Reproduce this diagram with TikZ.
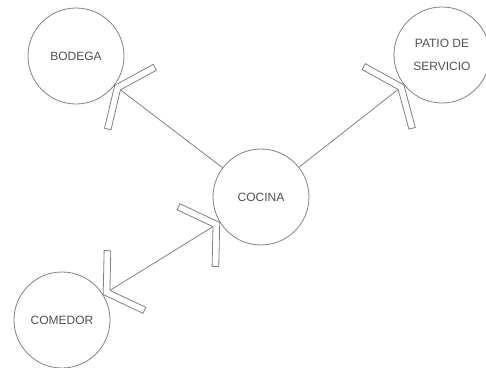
\documentclass[tikz,border=0pt]{standalone}
\usepackage{fontspec}
\setmainfont{Liberation Sans}
\usetikzlibrary{calc, decorations.markings, backgrounds}

\definecolor{linegray}{HTML}{808080}
\definecolor{textgray}{HTML}{505050}

% open V tip drawn as an outlined strip, #2 = half opening angle
\newcommand{\vtip}[2][]{%
  \filldraw[tipstrip, #1] (0,0) -- (180-#2:33pt) -- ++(270-#2:5pt)
    -- ({-5pt/sin(#2)},0pt) -- ($(180+#2:33pt)+(90+#2:5pt)$)
    -- (180+#2:33pt) -- cycle;}

\tikzset{
  room/.style={circle, draw=linegray, line width=0.6pt, text=textgray,
               minimum size=72pt, inner sep=0pt, align=center,
               font=\fontsize{9}{17}\selectfont},
  link/.style={draw=linegray, line width=0.6pt},
  tipstrip/.style={draw=linegray, fill=white, line width=0.6pt},
  tipend/.style={postaction={decorate, decoration={markings,
                 mark=at position 1 with {\vtip{#1}}}}},
  bothends/.style={postaction={decorate, decoration={markings,
                 mark=at position 0 with {\vtip[xscale=-1]{#1}},
                 mark=at position 1 with {\vtip{#1}}}}}
}

\begin{document}
\begin{tikzpicture}[x=0.75pt, y=-0.75pt]
	\useasboundingbox (0,0) rectangle (486,368);

	\node[room] (cocina)  at (261,197) {COCINA};
	\node[room] (bodega)  at (76,56)   {BODEGA};
	\node[room] (patio)   at (442,55)  {PATIO DE\\SERVICIO};
	\node[room] (comedor) at (62,320)  {COMEDOR};

	% connectors behind the circles, so the circle lines cross the tips
	\begin{scope}[on background layer]
	\draw[link, tipend=66]   (cocina)  -- (bodega);
	\draw[link, tipend=67]   (cocina)  -- (patio);
	\draw[link, bothends=57] (comedor) -- (cocina);
	\end{scope}
\end{tikzpicture}
\end{document}
